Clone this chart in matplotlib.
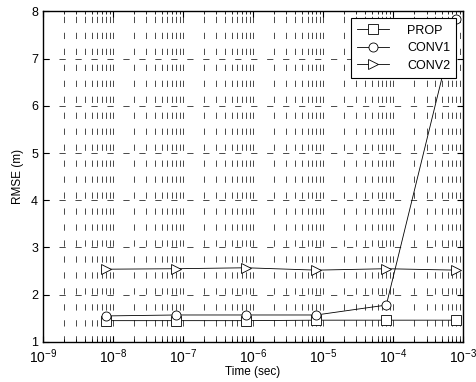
import numpy as np
import matplotlib
matplotlib.use("Agg")
import matplotlib.pyplot as plt
from matplotlib.ticker import LogLocator, NullFormatter, FuncFormatter

plt.rcParams['font.family'] = ['Liberation Sans', 'DejaVu Sans']
plt.rcParams['mathtext.fontset'] = 'custom'
plt.rcParams['mathtext.rm'] = 'Liberation Sans'
plt.rcParams['mathtext.default'] = 'regular'
plt.rcParams['lines.scale_dashes'] = False

# data
time_sec = [8e-9, 8e-8, 8e-7, 8e-6, 8e-5, 8e-4]
rmse_prop = [1.45, 1.45, 1.45, 1.46, 1.46, 1.46]
rmse_conv1 = [1.55, 1.57, 1.57, 1.57, 1.78, 7.84]
rmse_conv2 = [2.54, 2.55, 2.57, 2.52, 2.55, 2.52]


def pow_label(v, pos):
    return r'$10^{%d}$' % int(round(np.log10(v)))


fig = plt.figure(figsize=(4.76, 3.82), dpi=100)
ax = fig.add_axes([0.090, 0.105, 0.883, 0.865])

style = dict(color='black', lw=0.6, mfc='white', mec='black', mew=0.6, ms=6.5)
ax.plot(time_sec, rmse_prop, marker='s', label='PROP', **style)
ax.plot(time_sec, rmse_conv1, marker='o', label='CONV1', **style)
ax.plot(time_sec, rmse_conv2, marker='>', label='CONV2', **style)

ax.set_xscale('log')
ax.set_xlim(1e-9, 1e-3)
ax.set_ylim(1, 8)
ax.set_yticks(range(1, 9))
ax.xaxis.set_major_locator(LogLocator(base=10, numticks=10))
ax.xaxis.set_major_formatter(FuncFormatter(pow_label))
ax.xaxis.set_minor_locator(LogLocator(base=10, subs=np.arange(2, 10), numticks=100))
ax.xaxis.set_minor_formatter(NullFormatter())

dash = (0, (4.5, 7))
ax.grid(True, which='major', axis='both', color='black', lw=0.5, linestyle=dash)
ax.grid(True, which='minor', axis='x', color='black', lw=0.5, linestyle=dash)

ax.tick_params(which='both', direction='in', top=True, right=True, labelsize=9)
ax.tick_params(axis='x', which='major', labelsize=10, pad=4)
ax.tick_params(which='major', length=4)
ax.tick_params(which='minor', length=2)
for s in ax.spines.values():
    s.set_linewidth(1.0)

ax.set_xlabel('Time (sec)', fontsize=8.5, labelpad=0)
ax.set_ylabel('RMSE (m)', fontsize=8.5, labelpad=5)

leg = ax.legend(loc='upper right', fontsize=9, handlelength=2.6, fancybox=False,
                framealpha=1, edgecolor='black', borderaxespad=0.55,
                labelspacing=0.45, handletextpad=1.4, borderpad=0.5)
leg.get_frame().set_linewidth(0.8)

fig.savefig('out.png', dpi=100)
